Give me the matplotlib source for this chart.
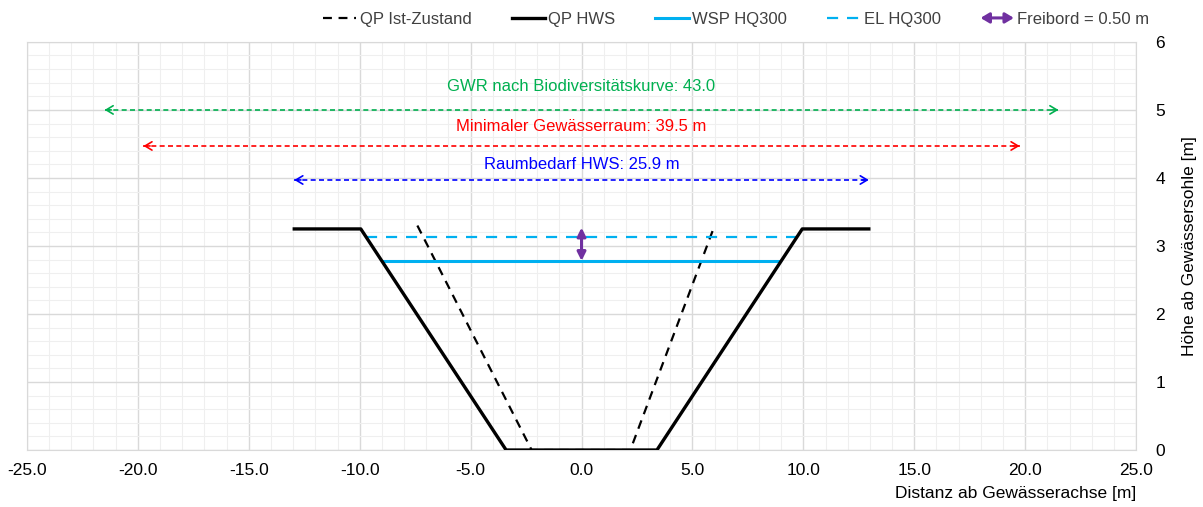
import numpy as np
import matplotlib
matplotlib.use('Agg')
import matplotlib.pyplot as plt
from matplotlib.patches import FancyArrowPatch
from matplotlib.legend_handler import HandlerPatch
from matplotlib.lines import Line2D
from matplotlib.ticker import MultipleLocator, FormatStrFormatter

plt.rcParams['font.family'] = ['Liberation Sans', 'DejaVu Sans']

# Querprofile
hws_x = [-12.95, -9.95, -3.4, 3.4, 9.95, 12.95]
hws_y = [3.25, 3.25, 0.0, 0.0, 3.25, 3.25]
ist_x = [-7.4, -2.25, 2.2, 6.0]
ist_y = [3.3, 0.0, 0.0, 3.3]
# Wasserspiegel / Energielinie
wsp_x = [-8.95, 8.95]
wsp_y = [2.78, 2.78]
el_x = [-9.7, 9.7]
el_y = [3.13, 3.13]
freibord = [2.78, 3.27]

# Raumbedarf (halbe Breite, Hoehe, Text)
dim_half = [21.5, 19.75, 12.95]
dim_y = [5.0, 4.47, 3.97]
dim_txt_y = [5.35, 4.75, 4.2]
dim_txt = ['GWR nach Biodiversitätskurve: 43.0',
           'Minimaler Gewässerraum: 39.5 m',
           'Raumbedarf HWS: 25.9 m']
dim_col = ['#00B050', '#FF0000', '#0000FF']


class HandlerArrow(HandlerPatch):
    def create_artists(self, legend, orig_handle, xdescent, ydescent,
                       width, height, fontsize, trans):
        p = FancyArrowPatch((0, height / 2), (width, height / 2),
                            arrowstyle='<|-|>,head_length=5,head_width=3',
                            color=orig_handle.get_facecolor(), lw=2.2,
                            shrinkA=0, shrinkB=0)
        p.set_transform(trans)
        return [p]


fig = plt.figure(figsize=(12.03, 5.07), dpi=100)
ax = fig.add_axes([0.0224, 0.1124, 0.922, 0.805])

l1, = ax.plot(ist_x, ist_y, color='black', lw=1.6, ls=(0, (4, 3)), label='QP Ist-Zustand', zorder=3)
l2, = ax.plot(hws_x, hws_y, color='black', lw=2.4, label='QP HWS', zorder=4)
l3, = ax.plot(wsp_x, wsp_y, color='#00B0F0', lw=2.2, label='WSP HQ300', zorder=3)
l4, = ax.plot(el_x, el_y, color='#00B0F0', lw=1.6, ls=(0, (5, 4)), label='EL HQ300', zorder=3)

ax.annotate('', xy=(0, freibord[0]), xytext=(0, freibord[1]),
            arrowprops=dict(arrowstyle='<|-|>,head_length=0.5,head_width=0.25',
                            color='#7030A0', lw=2.2, shrinkA=0, shrinkB=0), zorder=5)

for h, y, ty, t, c in zip(dim_half, dim_y, dim_txt_y, dim_txt, dim_col):
    ax.plot([-h, h], [y, y], color=c, lw=1.2, ls=(0, (3, 2)), zorder=3)
    ax.annotate('', xy=(-h, y), xytext=(-h + 0.3, y),
                arrowprops=dict(arrowstyle='->,head_length=0.5,head_width=0.3', color=c, lw=1.2,
                                shrinkA=0, shrinkB=0))
    ax.annotate('', xy=(h, y), xytext=(h - 0.3, y),
                arrowprops=dict(arrowstyle='->,head_length=0.5,head_width=0.3', color=c, lw=1.2,
                                shrinkA=0, shrinkB=0))
    ax.text(0, ty, t, color=c, fontsize=12, ha='center', va='center')

ax.set_xlim(-25, 25)
ax.set_ylim(0, 6)
ax.xaxis.set_major_locator(MultipleLocator(5))
ax.xaxis.set_minor_locator(MultipleLocator(1))
ax.yaxis.set_major_locator(MultipleLocator(1))
ax.yaxis.set_minor_locator(MultipleLocator(0.2))
ax.xaxis.set_major_formatter(FormatStrFormatter('%.1f'))
ax.grid(which='major', color='#d9d9d9', lw=1.0)
ax.grid(which='minor', color='#efefef', lw=0.8)
ax.set_axisbelow(True)
ax.yaxis.tick_right()
ax.yaxis.set_label_position('right')
ax.tick_params(which='both', length=0, labelsize=12.5, colors='black')
ax.tick_params(axis='x', pad=9)
ax.tick_params(axis='y', pad=14)
for s in ax.spines.values():
    s.set_color('#d9d9d9')

ax.set_ylabel('Höhe ab Gewässersohle [m]', fontsize=12.5, labelpad=12)
ax.set_xlabel('Distanz ab Gewässerachse [m]', fontsize=12.5, loc='right', labelpad=6)

fb = FancyArrowPatch((0, 0), (1, 0), color='#7030A0')
handles = [l1, l2, l3, l4, fb]
labels = ['QP Ist-Zustand', 'QP HWS', 'WSP HQ300', 'EL HQ300', 'Freibord = 0.50 m']
leg = fig.legend(handles, labels, loc='center', bbox_to_anchor=(0.612, 0.962), ncol=5,
                 frameon=False, fontsize=12, handlelength=2.0, handletextpad=0.2,
                 columnspacing=2.4, labelcolor='#404040',
                 handler_map={FancyArrowPatch: HandlerArrow()})

fig.savefig('out.png', dpi=100)
